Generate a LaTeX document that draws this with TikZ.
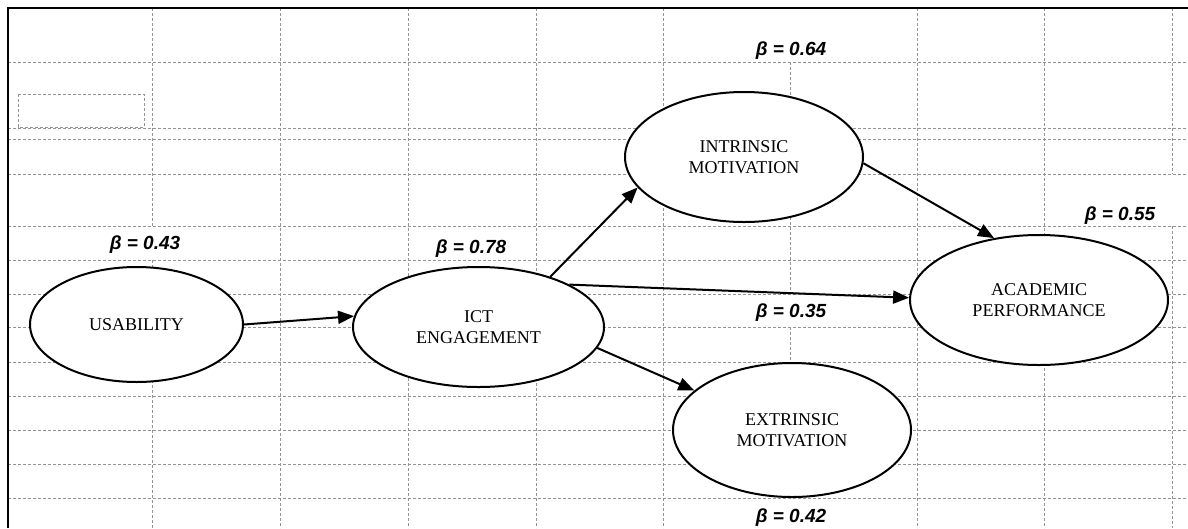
\documentclass[tikz,border=0pt]{standalone}
\usepackage{fontspec}
\setmainfont{Liberation Serif}
\newfontfamily\betasans{Liberation Sans}
\usetikzlibrary{shapes.geometric,arrows.meta}
\begin{document}
\begin{tikzpicture}[x=1pt,y=-1pt,
  gridline/.style={draw=black!42, line width=0.9pt, dash pattern=on 3.2pt off 1.8pt},
  frameline/.style={draw=black, line width=1.1pt},
  latent/.style={ellipse, draw, line width=2pt, fill=white, inner sep=0pt, align=center, font=\fontsize{18}{21.5}\selectfont},
  betalabel/.style={anchor=base, inner sep=0pt, font=\betasans\bfseries\itshape\fontsize{19}{22}\selectfont},
  link/.style={-{Triangle[length=16pt,width=13pt]}, line width=2pt}]
\useasboundingbox (0,0) rectangle (1188,528);

% grid: horizontal lines
\foreach \y in {62,128,139,174,226,260,294,327,362,396,430,464,498}
  \draw[gridline] (8,\y) -- (1188,\y);
% grid: vertical lines
\foreach \x in {280,408,536,663,917,1044}
  \draw[gridline] (\x,8) -- (\x,528);
\draw[gridline] (152,8) -- (152,226) (152,260) -- (152,528);
\draw[gridline] (790,62) -- (790,294) (790,327) -- (790,498);
\draw[gridline] (1172,8) -- (1172,174) (1172,226) -- (1172,528);
% empty text box
\draw[gridline] (18,94) rectangle (144,127);
% frame
\draw[frameline] (8,528) -- (8,8) -- (1188,8);

% constructs
\node[latent, minimum width=213pt, minimum height=115pt] (us) at (136.5,324.5) {USABILITY};
\node[latent, minimum width=251pt, minimum height=120pt] (ict) at (478.5,327) {ICT\\ENGAGEMENT};
\node[latent, minimum width=238pt, minimum height=130pt] (intr) at (744,157) {INTRINSIC\\MOTIVATION};
\node[latent, minimum width=258pt, minimum height=130pt] (acad) at (1039,300) {ACADEMIC\\PERFORMANCE};
\node[latent, minimum width=238pt, minimum height=134pt] (extr) at (792,430) {EXTRINSIC\\MOTIVATION};

% coefficients
\node[betalabel] (b43) at (145,249) {β = 0.43};
\node[betalabel] (b78) at (471,253) {β = 0.78};
\node[betalabel] (b64) at (791,55) {β = 0.64};
\node[betalabel] (b55) at (1120,220) {β = 0.55};
\node[betalabel] (b35) at (791,317) {β = 0.35};
\node[betalabel] (b42) at (791,522) {β = 0.42};

% paths
\draw[link] (us.east) -- (ict.175);
\draw[link] (ict.35) -- (intr.196);
\draw[link] (ict.25) -- (acad.179);
\draw[link] (ict.350) -- (extr.158);
\draw[link] (intr.357) -- (acad.126);
\end{tikzpicture}
\end{document}
